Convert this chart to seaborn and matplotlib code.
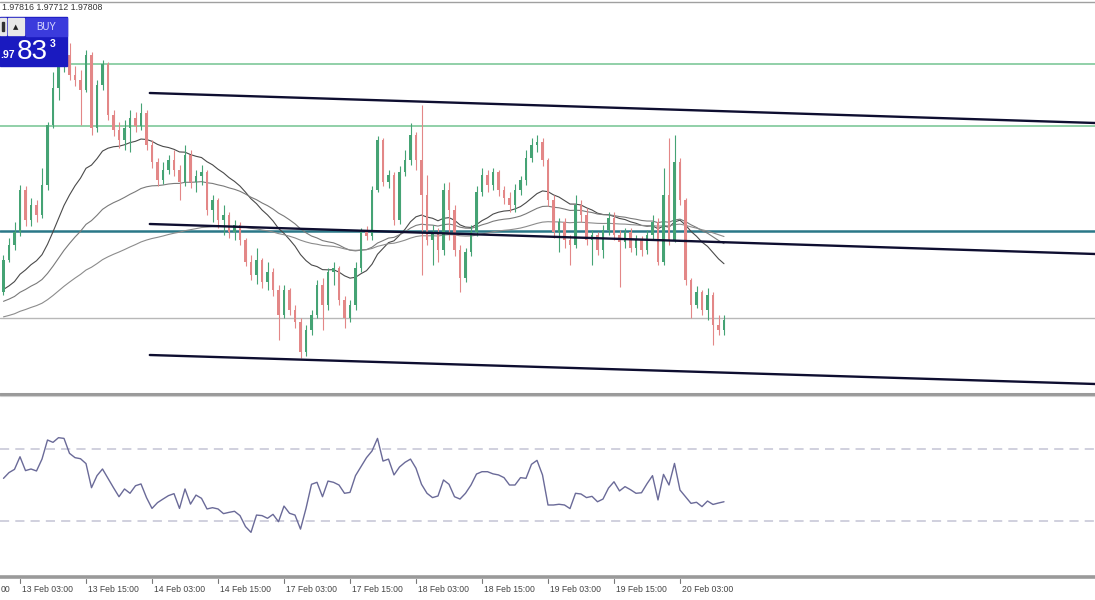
import numpy as np
import pandas as pd
import matplotlib
matplotlib.use("Agg")
import matplotlib.pyplot as plt
import seaborn as sns
from matplotlib.lines import Line2D
from matplotlib.patches import Rectangle

sns.set_style("white")
plt.rcParams['font.family'] = ['Liberation Sans', 'DejaVu Sans']

# ---------------- data (price levels in chart points, H1 bars) ----------------
first_open = 108
close = [140,155,168,210,180,195,185,215,275,312,
         334,345,325,320,310,345,272,315,336,285,
         270,260,272,282,274,287,255,238,220,230,
         240,230,218,245,218,224,228,190,200,180,
         185,168,175,160,138,125,140,118,128,110,
         85,110,90,78,48,70,85,115,95,128,
         132,100,82,95,132,168,164,210,260,218,
         225,180,228,240,265,240,205,160,168,150,
         210,190,150,122,148,168,208,225,215,228,
         210,202,195,210,220,242,255,258,240,200,
         168,178,160,155,195,185,160,165,150,170,
         182,165,158,168,152,160,150,165,178,138,
         205,160,238,200,120,95,108,90,105,75,
         70,80]
high = [145,162,178,215,214,202,200,232,278,328,
        338,355,357,334,330,350,348,320,340,338,
        290,278,280,290,288,297,290,260,242,238,
        245,250,235,255,250,230,235,230,205,202,
        195,188,180,178,162,145,152,142,138,132,
        115,115,112,95,82,75,90,120,122,132,
        138,134,104,100,138,172,174,214,264,262,
        230,228,234,250,277,268,295,225,175,172,
        217,218,195,155,152,175,214,232,230,232,
        230,214,208,216,224,250,262,265,262,242,
        205,182,182,165,205,200,192,170,168,175,
        188,188,170,172,172,165,164,170,185,182,
        232,262,265,242,202,122,114,110,112,108,
        85,85]
low = [105,138,150,164,174,174,178,182,210,272,
       300,328,320,314,275,308,265,268,310,280,
       264,252,250,248,268,270,250,232,214,216,
       226,224,200,214,212,208,215,185,178,172,
       165,162,160,155,134,120,116,112,110,104,
       60,82,85,72,42,44,65,82,70,90,
       115,95,72,78,90,128,160,160,208,214,
       212,175,176,224,235,230,125,155,135,138,
       145,160,144,108,118,144,164,204,208,210,
       204,196,188,188,205,215,238,248,234,194,
       162,148,152,135,152,178,155,135,145,142,
       165,160,113,152,148,145,144,146,160,135,
       135,155,158,195,115,82,92,85,80,55,
       65,65]
rsi = [53.7,56.9,58.7,65.7,58.0,58.9,57.8,64.4,75.0,73.7,
       76.3,75.9,67.6,65.2,64.6,61.9,48.5,55.2,58.9,53.7,
       48.5,43.5,47.8,45.4,49.6,50.6,43.0,37.0,40.2,42.2,
       44.1,45.2,37.0,47.8,39.4,44.4,42.6,36.7,37.4,36.7,
       34.1,34.8,35.4,33.0,26.9,23.7,33.3,33.0,31.5,33.7,
       29.6,38.3,34.3,33.3,25.5,37.0,50.4,51.5,43.5,52.2,
       51.5,50.0,45.4,45.9,55.2,60.2,65.2,68.9,75.9,63.3,
       64.4,55.6,60.0,62.6,64.4,59.3,50.4,45.4,43.0,43.9,
       52.8,50.4,43.5,42.2,45.4,50.0,56.1,57.4,57.4,56.2,
       55.6,54.1,50.0,50.0,54.1,53.7,61.5,63.7,55.6,38.9,
       38.9,39.3,38.9,36.9,45.4,45.0,43.0,43.7,40.7,42.2,
       48.3,51.8,46.7,49.1,47.4,45.4,45.7,50.7,55.2,41.7,
       55.9,50.0,62.0,47.2,43.5,39.8,40.4,38.0,41.1,39.2,
       40.0,40.7]

# moving averages: periods and their values at the first visible bar
ma_periods = [24, 50, 100]
ma_seeds = [108, 97, 82]
ma_colors = ['#4a4a4a', '#7a7a7a', '#8c8c8c']

green_levels = [336, 274]
teal_level = 169
bid_level = 82
channel_x = [26.6, 198.5]
channel_top = [307, 277]
channel_mid = [176, 146]
channel_bot = [45, 16]

# first label is only partly on screen ("12 Feb 15:00" -> "00")
tick_pos = [-9, 3, 15, 27, 39, 51, 63, 75, 87, 99, 111, 123]
tick_labels = ["00", "13 Feb 03:00", "13 Feb 15:00", "14 Feb 03:00",
               "14 Feb 15:00", "17 Feb 03:00", "17 Feb 15:00", "18 Feb 03:00",
               "18 Feb 15:00", "19 Feb 03:00", "19 Feb 15:00", "20 Feb 03:00"]

# ---------------- build table ----------------
n = len(close)
df = pd.DataFrame({"bar": np.arange(n), "close": close, "high": high,
                   "low": low, "rsi": rsi})
df["open"] = [first_open] + close[:-1]
for p, s in zip(ma_periods, ma_seeds):
    alpha = 2.0 / (p + 1)
    vals, prev = [], s
    for c in close:
        prev = prev + alpha * (c - prev)
        vals.append(prev)
    df[f"ma{p}"] = vals

W, H = 1095, 600
fig = plt.figure(figsize=(W / 100, H / 100), dpi=100)
fig.patch.set_facecolor("white")

def fx(x):
    return x / W

def fy(y):
    return 1 - y / H

ax = fig.add_axes([0, fy(392), 1, (392 - 3) / H])
axr = fig.add_axes([0, fy(575), 1, (575 - 397) / H])
x_lo, x_hi = (0 - 3.5) / 5.5, (W - 3.5) / 5.5
for a in (ax, axr):
    a.set_xlim(x_lo, x_hi)
    a.set_facecolor("white")
    for s in a.spines.values():
        s.set_visible(False)
    a.set_xticks([])
    a.set_yticks([])
ax.set_ylim(8, 397)
axr.set_ylim(0, 98.9)

# horizontal objects
for g in green_levels:
    ax.axhline(g, color="#7ec89a", lw=1.2, zorder=2)
ax.axhline(teal_level, color="#2a7888", lw=1.8, zorder=2)
ax.axhline(bid_level, color="#b8b8b8", lw=1.0, zorder=2)

# moving averages
for p, c in zip(ma_periods, ma_colors):
    sns.lineplot(data=df, x="bar", y=f"ma{p}", ax=ax, color=c, lw=0.8, zorder=3)

# candles
up_col, dn_col = "#45a374", "#e38787"
cols = [up_col if c >= o else dn_col for o, c in zip(df["open"], df["close"])]
ax.vlines(df["bar"], df["low"], df["high"], colors=cols, lw=0.8, zorder=4)
body = (df["close"] - df["open"]).to_numpy(dtype=float)
body[np.abs(body) < 1.2] = 1.2
ax.bar(df["bar"], body, bottom=df["open"], width=0.48, color=cols,
       linewidth=0, zorder=5)

# trend channel
for ys in (channel_top, channel_mid, channel_bot):
    ax.plot(channel_x, ys, color="#0e0e30", lw=1.7, zorder=6)
ax.set_xlabel("")
ax.set_ylabel("")

# RSI
for lvl in (70, 30):
    axr.axhline(lvl, color="#c4c4d4", lw=1.1, dashes=(6, 4), zorder=1)
sns.lineplot(data=df, x="bar", y="rsi", ax=axr, color="#6a6a98", lw=1.0, zorder=3)
axr.set_xlabel("")
axr.set_ylabel("")

# panel borders
for y, lw, c in ((2, 1.0, "#a0a0a0"), (393.5, 2.2, "#9a9a9a"), (396, 0.8, "#cfcfcf"),
                 (576.5, 2.6, "#9a9a9a")):
    fig.add_artist(Line2D([0, 1], [fy(y), fy(y)], transform=fig.transFigure,
                          color=c, lw=lw))

# time axis
trans = matplotlib.transforms.blended_transform_factory(axr.transData, fig.transFigure)
for p, lab in zip(tick_pos, tick_labels):
    fig.add_artist(Line2D([p, p], [fy(579), fy(583)], transform=trans,
                          color="#777777", lw=0.8))
    if lab == "00":
        fig.text(fx(0.5), fy(590), lab, fontsize=6.2, color="#444444",
                 ha="left", va="center")
    else:
        fig.text(p + 0.35, fy(590), lab, transform=trans, fontsize=6.2,
                 color="#444444", ha="left", va="center")

# top-left info
fig.text(fx(2), fy(8), "1.97816 1.97712 1.97808", fontsize=6.3, color="#333333",
         ha="left", va="center")

# one-click trading widget
fig.add_artist(Rectangle((fx(0), fy(66)), fx(67), (66 - 17) / H,
                         transform=fig.transFigure, color="#1a1ac0", zorder=10))
fig.add_artist(Rectangle((fx(26), fy(36)), fx(41), (36 - 18) / H,
                         transform=fig.transFigure, color="#3b3bdc", zorder=11))
fig.add_artist(Rectangle((fx(8), fy(35)), fx(16), (35 - 18) / H,
                         transform=fig.transFigure, color="#e8e8e8", zorder=11))
fig.add_artist(Rectangle((fx(0), fy(35)), fx(6), (35 - 18) / H,
                         transform=fig.transFigure, color="#e8e8e8", zorder=11))
fig.add_artist(Rectangle((fx(1.5), fy(31)), fx(2), (31 - 22) / H,
                         transform=fig.transFigure, color="#333333", zorder=12))
fig.text(fx(16), fy(27), "▲", fontsize=5, color="#222222", ha="center",
         va="center", zorder=12, family=["DejaVu Sans"])
fig.text(fx(46.5), fy(27), "BUY", fontsize=7, color="#dcdcff", ha="center",
         va="center", zorder=12)
fig.text(fx(0.5), fy(55), ".97", fontsize=7.5, color="white", ha="left",
         va="center", zorder=12, fontweight="bold")
fig.text(fx(17), fy(52), "83", fontsize=20, color="white", ha="left",
         va="center", zorder=12)
fig.text(fx(50), fy(44), "3", fontsize=7.5, color="white", ha="left",
         va="center", zorder=12, fontweight="bold")

fig.savefig("out.png", dpi=100, facecolor="white")
